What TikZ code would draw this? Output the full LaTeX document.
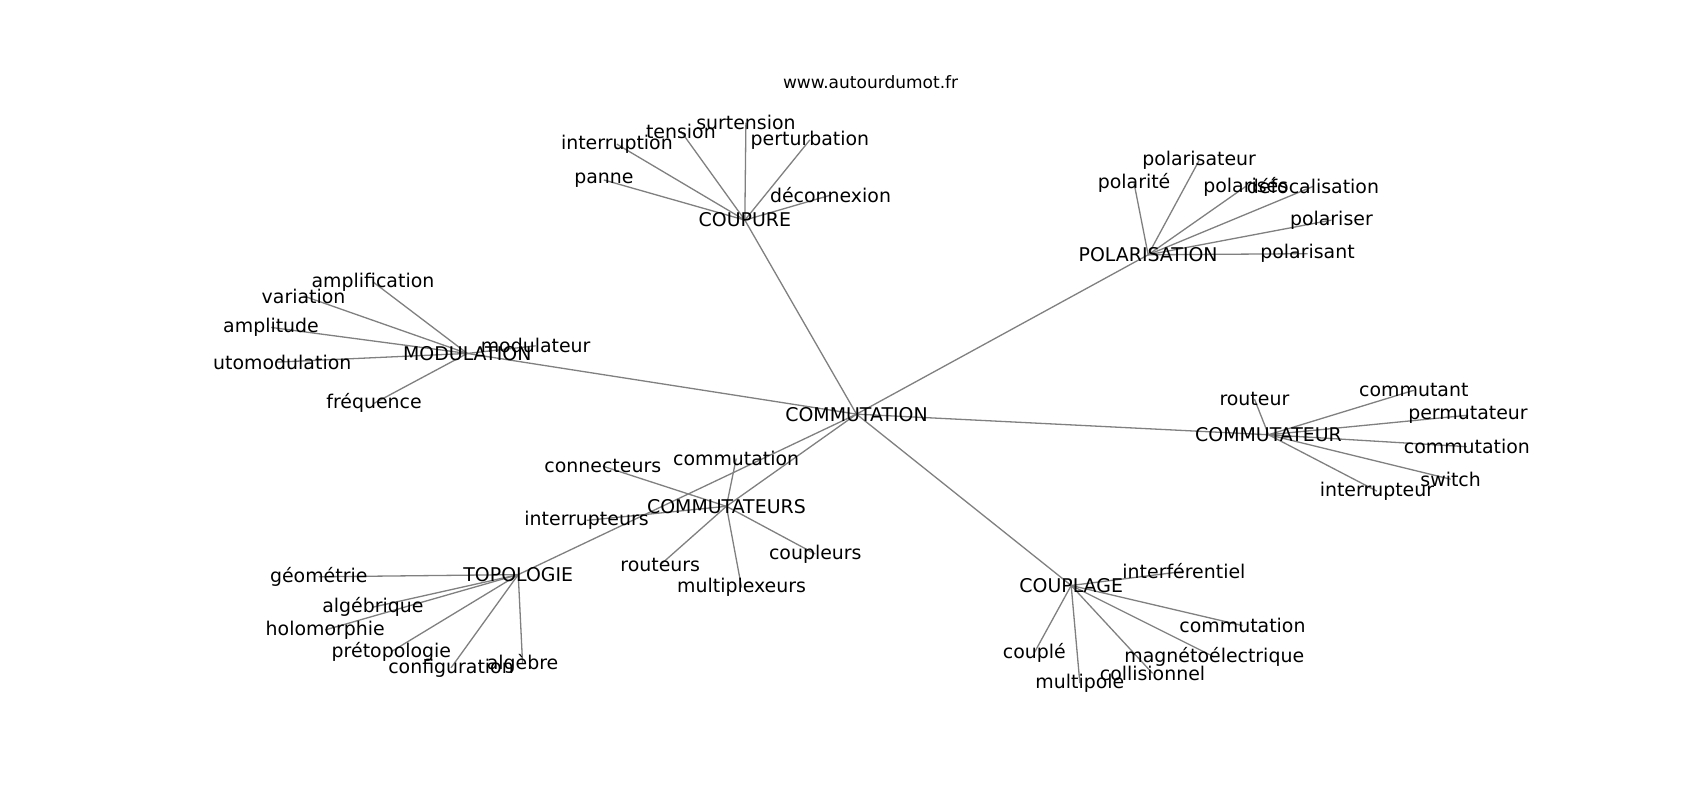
\documentclass[tikz,border=0pt]{standalone}
\usepackage{fontspec}
\setmainfont{DejaVu Sans}
\usetikzlibrary{backgrounds}
\tikzset{
  lbl/.style={font=\fontsize{17.45}{20}\selectfont, inner sep=0pt, text=black},
  ttl/.style={font=\fontsize{15.7}{18}\selectfont, inner sep=0pt, text=black},
  edge/.style={draw=black!50, line width=1.2pt}
}
\begin{document}
\begin{tikzpicture}[x=1pt,y=-1pt]
\useasboundingbox (0,0) rectangle (1568,738);
\node[ttl] (title) at (803,76) {www.autourdumot.fr};
\begin{scope}
\clip (196,0) rectangle (1411,738);
% hubs
\node[lbl] (hub) at (790,382) {COMMUTATION};
\node[lbl] (coup) at (687,203) {COUPURE};
\node[lbl] (pol) at (1059,235) {POLARISATION};
\node[lbl] (mod) at (431,326) {MODULATION};
\node[lbl] (cmt) at (1170,401) {COMMUTATEUR};
\node[lbl] (cmts) at (670,467) {COMMUTATEURS};
\node[lbl] (topo) at (478,530) {TOPOLOGIE};
\node[lbl] (cpl) at (988,540) {COUPLAGE};
% COUPURE
\node[lbl] (c1) at (557,166) {panne};
\node[lbl] (c2) at (569,133) {interruption};
\node[lbl] (c3) at (628,121) {tension};
\node[lbl] (c4) at (688,113) {surtension};
\node[lbl] (c5) at (747,129) {perturbation};
\node[lbl] (c6) at (766,180) {déconnexion};
% POLARISATION
\node[lbl] (p1) at (1106,148) {polarisateur};
\node[lbl] (p2) at (1046,169) {polarité};
\node[lbl] (p3) at (1149,172) {polarisés};
\node[lbl] (p4) at (1211,172) {défocalisation};
\node[lbl] (p5) at (1228,203) {polariser};
\node[lbl] (p6) at (1206,234) {polarisant};
% MODULATION
\node[lbl] (m1) at (344,260) {amplification};
\node[lbl] (m2) at (280,273) {variation};
\node[lbl] (m3) at (250,302) {amplitude};
\node[lbl] (m4) at (255,334) {automodulation};
\node[lbl] (m5) at (494,319) {modulateur};
\node[lbl] (m6) at (345,372) {fréquence};
% COMMUTATEUR
\node[lbl] (t1) at (1157,368) {routeur};
\node[lbl] (t2) at (1304,360) {commutant};
\node[lbl] (t3) at (1354,383) {permutateur};
\node[lbl] (t4) at (1353,412) {commutation};
\node[lbl] (t5) at (1338,442) {switch};
\node[lbl] (t6) at (1270,453) {interrupteur};
% COMMUTATEURS
\node[lbl] (s1) at (679,423) {commutation};
\node[lbl] (s2) at (556,430) {connecteurs};
\node[lbl] (s3) at (541,480) {interrupteurs};
\node[lbl] (s4) at (609,521) {routeurs};
\node[lbl] (s5) at (684,542) {multiplexeurs};
\node[lbl] (s6) at (752,511) {coupleurs};
% TOPOLOGIE
\node[lbl] (o1) at (294,532) {géométrie};
\node[lbl] (o2) at (344,560) {algébrique};
\node[lbl] (o3) at (300,581) {holomorphie};
\node[lbl] (o4) at (361,601) {prétopologie};
\node[lbl] (o5) at (416,616) {configuration};
\node[lbl] (o6) at (482,612) {algèbre};
% COUPLAGE
\node[lbl] (g1) at (1092,527) {interférentiel};
\node[lbl] (g2) at (1146,577) {commutation};
\node[lbl] (g3) at (1120,606) {magnétoélectrique};
\node[lbl] (g4) at (1063,621) {collisionnel};
\node[lbl] (g5) at (996,630) {multipole};
\node[lbl] (g6) at (954,602) {couplé};
\end{scope}
\begin{scope}[on background layer]
\fill[white] (0,0) rectangle (1568,738);
\foreach \h in {coup,pol,mod,cmt,cmts,topo,cpl}
  \draw[edge] (hub.center) -- (\h.center);
\foreach \n in {c1,c2,c3,c4,c5,c6} \draw[edge] (coup.center) -- (\n.center);
\foreach \n in {p1,p2,p3,p4,p5,p6} \draw[edge] (pol.center) -- (\n.center);
\foreach \n in {m1,m2,m3,m4,m5,m6} \draw[edge] (mod.center) -- (\n.center);
\foreach \n in {t1,t2,t3,t4,t5,t6} \draw[edge] (cmt.center) -- (\n.center);
\foreach \n in {s1,s2,s3,s4,s5,s6} \draw[edge] (cmts.center) -- (\n.center);
\foreach \n in {o1,o2,o3,o4,o5,o6} \draw[edge] (topo.center) -- (\n.center);
\foreach \n in {g1,g2,g3,g4,g5,g6} \draw[edge] (cpl.center) -- (\n.center);
\end{scope}
\end{tikzpicture}
\end{document}
